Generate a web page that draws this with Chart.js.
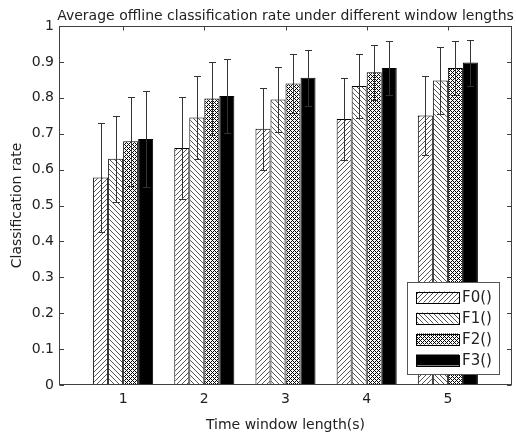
<!DOCTYPE html>
<html>
<head>
<meta charset="utf-8">
<script src="https://cdn.jsdelivr.net/npm/chart.js@4.4.1/dist/chart.umd.min.js"></script>
<style>
  html, body { margin: 0; padding: 0; background: #fff; }
</style>
</head>
<body>
<canvas id="chart" width="516" height="434"></canvas>
<script>
const windowLengths = [1, 2, 3, 4, 5];
const seriesNames = ['F0()', 'F1()', 'F2()', 'F3()'];

// mean classification rate per window length
const f0Rate = [0.578, 0.660, 0.714, 0.741, 0.751];
const f1Rate = [0.630, 0.745, 0.795, 0.833, 0.848];
const f2Rate = [0.679, 0.798, 0.840, 0.871, 0.883];
const f3Rate = [0.685, 0.805, 0.856, 0.883, 0.898];

// standard deviation (error bar half length)
const f0Err = [0.152, 0.143, 0.114, 0.113, 0.111];
const f1Err = [0.120, 0.115, 0.091, 0.088, 0.094];
const f2Err = [0.124, 0.102, 0.081, 0.077, 0.075];
const f3Err = [0.133, 0.102, 0.078, 0.074, 0.064];

const yTicks = [0, 0.1, 0.2, 0.3, 0.4, 0.5, 0.6, 0.7, 0.8, 0.9, 1];
const yTickLabels = ['0', '0.1', '0.2', '0.3', '0.4', '0.5', '0.6', '0.7', '0.8', '0.9', '1'];

const rates = [f0Rate, f1Rate, f2Rate, f3Rate];
const errs = [f0Err, f1Err, f2Err, f3Err];

const FONT = '"DejaVu Sans", Verdana, sans-serif';
const TEXT = '#222';
const AXIS = '#404040';

function makePattern(kind) {
  if (kind === 'solid') return '#000';
  const n = kind === 'cross' ? 4 : 5;
  const c = document.createElement('canvas');
  c.width = n; c.height = n;
  const g = c.getContext('2d');
  g.fillStyle = '#fff';
  g.fillRect(0, 0, n, n);
  g.fillStyle = kind === 'cross' ? '#000' : '#555';
  for (let x = 0; x < n; x++) {
    for (let y = 0; y < n; y++) {
      let on = false;
      if (kind === 'fwd') on = (x + y) % n === 0;
      if (kind === 'back') on = (x - y + n) % n === 0;
      if (kind === 'cross') on = (x + y) % n === 0 || (x - y + n) % n === 0;
      if (on) g.fillRect(x, y, 1, 1);
    }
  }
  return g.createPattern(c, 'repeat');
}

const fills = [makePattern('fwd'), makePattern('back'), makePattern('cross'), makePattern('solid')];

const boxPlugin = {
  id: 'box',
  afterDatasetsDraw(chart) {
    const ctx = chart.ctx;
    const y = chart.scales.y;
    ctx.save();
    ctx.strokeStyle = '#333';
    ctx.lineWidth = 1;
    chart.data.datasets.forEach((ds, i) => {
      const meta = chart.getDatasetMeta(i);
      meta.data.forEach((bar, j) => {
        const x = Math.round(bar.x) + 0.5;
        const top = Math.round(y.getPixelForValue(rates[i][j] + errs[i][j])) + 0.5;
        const bot = Math.round(y.getPixelForValue(rates[i][j] - errs[i][j])) + 0.5;
        ctx.beginPath();
        ctx.moveTo(x, top); ctx.lineTo(x, bot);
        ctx.moveTo(x - 3.5, top); ctx.lineTo(x + 3.5, top);
        ctx.moveTo(x - 3.5, bot); ctx.lineTo(x + 3.5, bot);
        ctx.stroke();
      });
    });
    ctx.restore();
  },
  afterDraw(chart) {
    const ctx = chart.ctx;
    const a = chart.chartArea;
    const xs = chart.scales.x, ys = chart.scales.y;
    const L = Math.round(a.left) + 0.5, R = Math.round(a.right) - 0.5;
    const T = Math.round(a.top) + 0.5, B = Math.round(a.bottom) - 0.5;
    ctx.save();
    ctx.strokeStyle = AXIS;
    ctx.lineWidth = 1;
    ctx.strokeRect(L, T, R - L, B - T);
    ctx.beginPath();
    ys.ticks.forEach(t => {
      const p = Math.round(ys.getPixelForValue(t.value)) + 0.5;
      ctx.moveTo(L, p); ctx.lineTo(L + 4.5, p);
      ctx.moveTo(R, p); ctx.lineTo(R - 4.5, p);
    });
    xs.ticks.forEach(t => {
      const p = Math.round(xs.getPixelForValue(t.value)) + 0.5;
      ctx.moveTo(p, T); ctx.lineTo(p, T + 4);
      ctx.moveTo(p, B); ctx.lineTo(p, B - 4);
    });
    ctx.stroke();

    // title
    ctx.fillStyle = TEXT;
    ctx.font = '14px ' + FONT;
    ctx.textAlign = 'center';
    ctx.textBaseline = 'alphabetic';
    ctx.fillText('Average offline classification rate under different window lengths', (a.left + a.right) / 2, 20);

    // legend box
    const lx = a.right - 105, ly = a.bottom - 103, lw = 92, lh = 92;
    ctx.fillStyle = '#fff';
    ctx.fillRect(lx, ly, lw, lh);
    ctx.strokeStyle = '#555';
    ctx.strokeRect(Math.round(lx) + 0.5, Math.round(ly) + 0.5, lw, lh);
    ctx.font = '15px ' + FONT;
    ctx.textAlign = 'left';
    ctx.textBaseline = 'middle';
    seriesNames.forEach((name, i) => {
      const cy = ly + 15 + i * 21;
      ctx.fillStyle = fills[i];
      ctx.fillRect(lx + 9, cy - 5.5, 43, 11);
      ctx.strokeStyle = '#000';
      ctx.strokeRect(Math.round(lx + 9) + 0.5, Math.round(cy - 5.5) + 0.5, 43, 11);
      ctx.fillStyle = TEXT;
      ctx.fillText(name, lx + 55, cy + 1);
    });
    ctx.restore();
  }
};

new Chart(document.getElementById('chart').getContext('2d'), {
  type: 'bar',
  data: {
    datasets: seriesNames.map((name, i) => ({
      label: name,
      data: windowLengths.map((x, j) => ({ x: x, y: rates[i][j] })),
      backgroundColor: fills[i],
      borderColor: '#000',
      borderWidth: 1,
      categoryPercentage: 0.74,
      barPercentage: 1
    }))
  },
  options: {
    responsive: false,
    animation: false,
    layout: { padding: { top: 26, right: 4, left: 0, bottom: 0 } },
    plugins: {
      legend: { display: false },
      tooltip: { enabled: false },
      title: { display: false }
    },
    scales: {
      x: {
        type: 'linear',
        min: 0.21,
        max: 5.79,
        offset: false,
        grid: { display: false, drawTicks: false },
        border: { display: false },
        afterBuildTicks: s => { s.ticks = windowLengths.map(v => ({ value: v })); },
        afterFit: s => { s.height = 49; },
        ticks: {
          callback: v => String(v),
          padding: 6,
          color: TEXT,
          font: { family: FONT, size: 14 }
        },
        title: {
          display: true,
          text: 'Time window length(s)',
          color: TEXT,
          font: { family: FONT, size: 14 },
          padding: { top: 0, bottom: 0 }
        }
      },
      y: {
        min: 0,
        max: 1,
        grid: { display: false, drawTicks: false },
        border: { display: false },
        afterBuildTicks: s => { s.ticks = yTicks.map(v => ({ value: v })); },
        afterFit: s => { s.width = 59; },
        ticks: {
          callback: (v, i) => yTickLabels[i],
          padding: 5,
          color: TEXT,
          font: { family: FONT, size: 14 }
        },
        title: {
          display: true,
          text: 'Classification rate',
          color: TEXT,
          font: { family: FONT, size: 14 },
          padding: { top: 9, bottom: 0 }
        }
      }
    }
  },
  plugins: [boxPlugin]
});
</script>
</body>
</html>
